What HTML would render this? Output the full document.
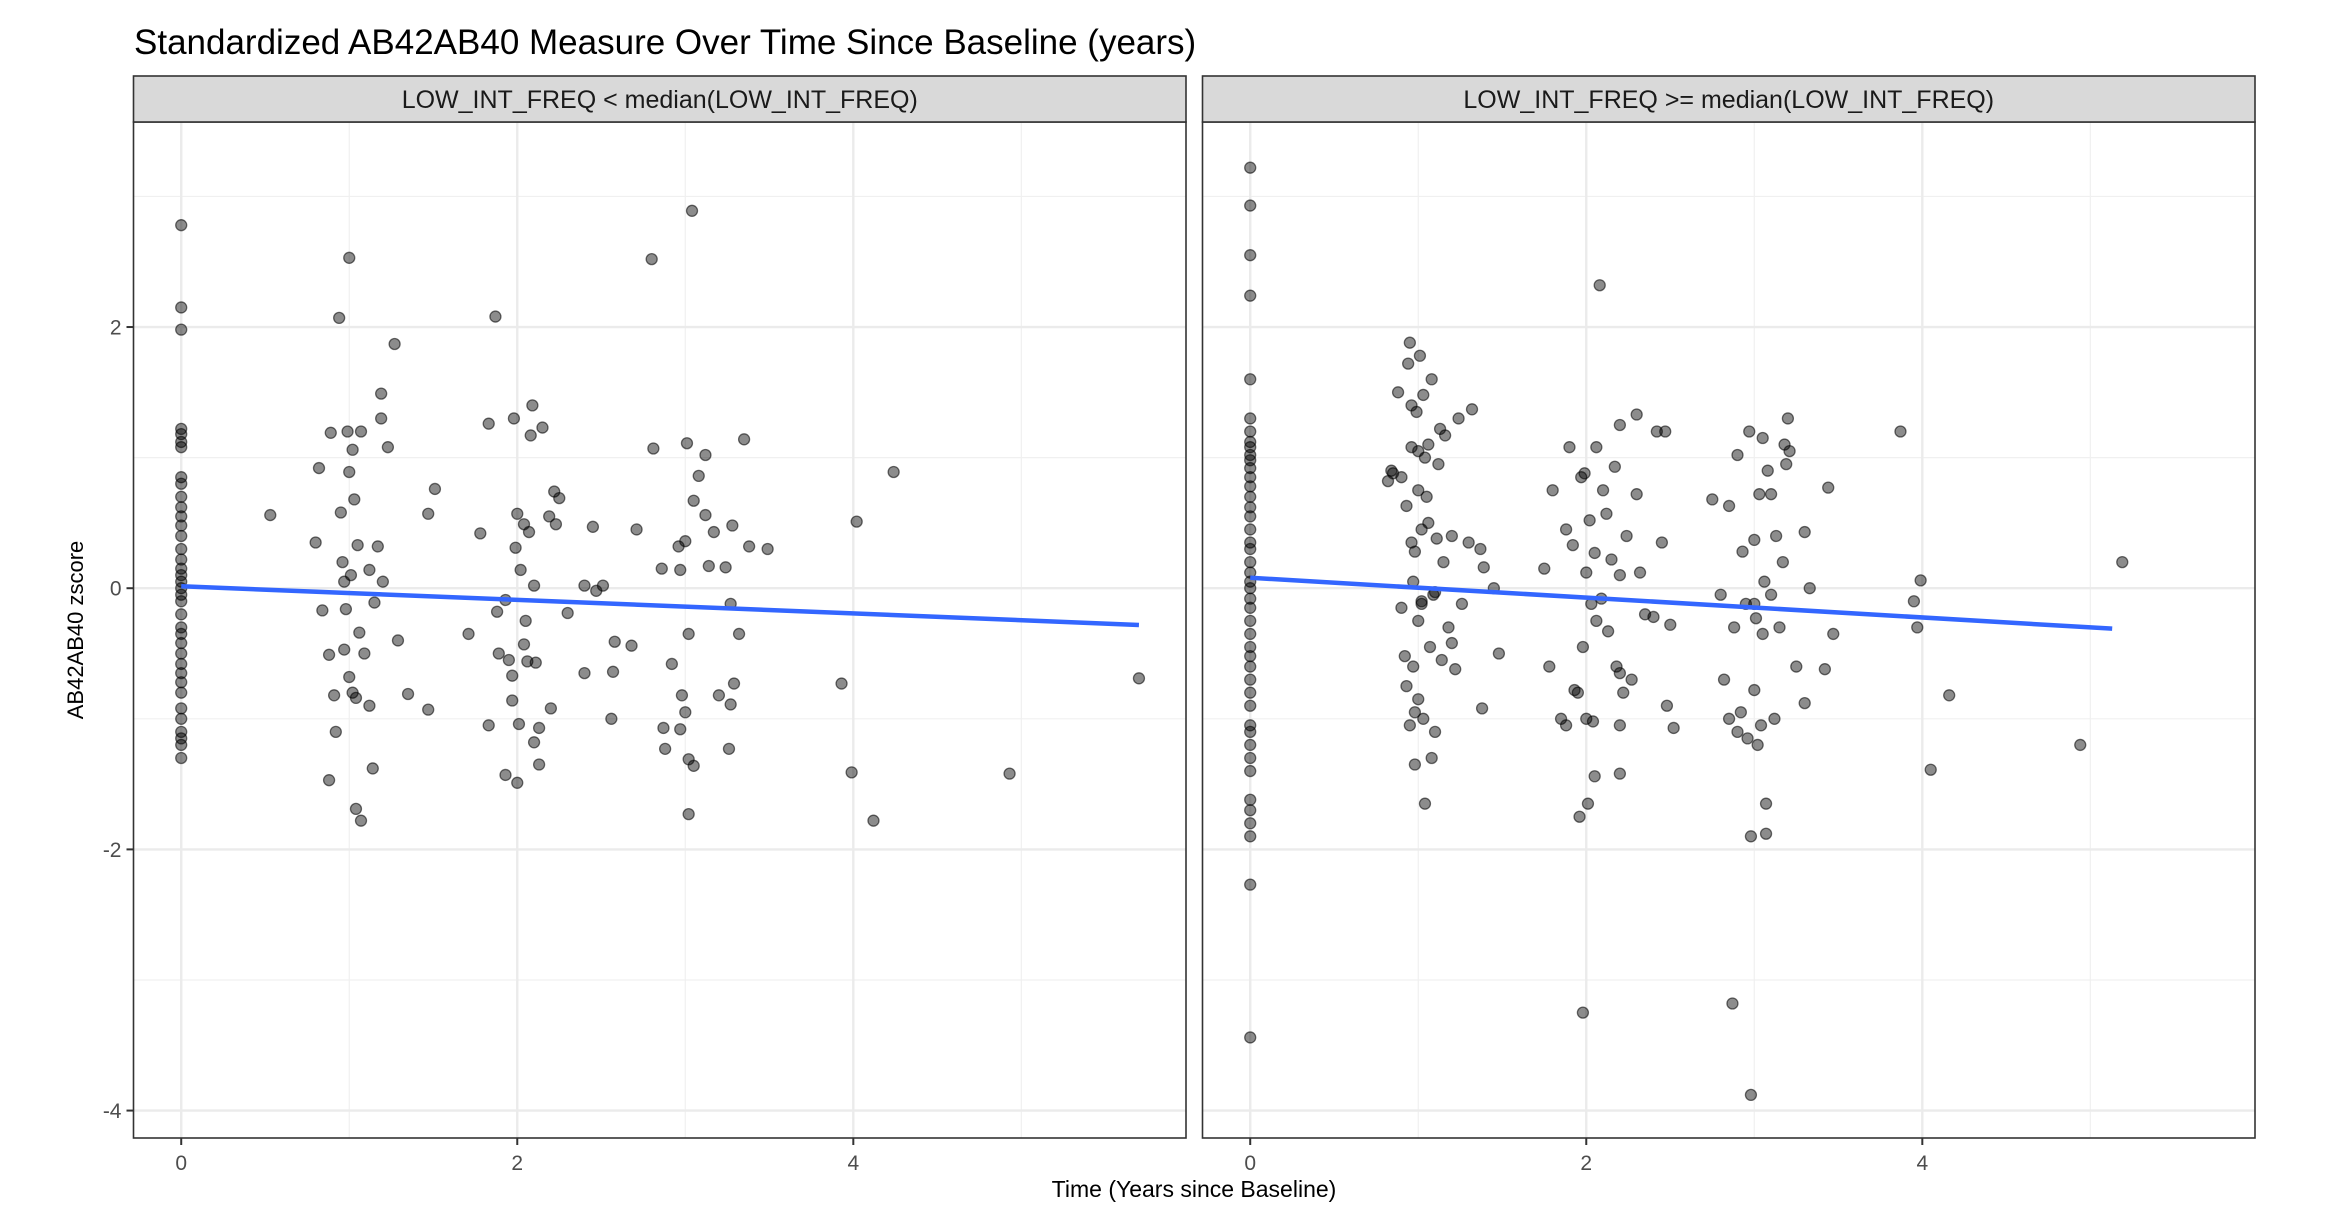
<!DOCTYPE html>
<html><head><meta charset="utf-8"><style>
html,body{margin:0;padding:0;background:#fff;}
svg{display:block;font-family:"Liberation Sans",Arial,sans-serif;}
</style></head><body>
<svg id="chart" width="2328" height="1222" viewBox="0 0 2328 1222">
<text x="134" y="54" font-size="35" fill="#000">Standardized AB42AB40 Measure Over Time Since Baseline (years)</text>
<text x="1194" y="1197" font-size="23" text-anchor="middle" fill="#000">Time (Years since Baseline)</text>
<text transform="translate(83,630) rotate(-90)" font-size="22" text-anchor="middle" fill="#000">AB42AB40 zscore</text>
<g id="panels"></g>
</svg>
<script>
const stripLabels = ["LOW_INT_FREQ < median(LOW_INT_FREQ)", "LOW_INT_FREQ >= median(LOW_INT_FREQ)"];
const xTicks = [0, 2, 4];
const yTicks = [-4, -2, 0, 2];
const p1x0 = [2.78,2.15,1.98,1.22,1.18,1.12,1.08,0.85,0.8,0.7,0.62,0.55,0.48,0.4,0.3,0.22,0.15,0.1,0.05,0.0,-0.05,-0.1,-0.2,-0.3,-0.35,-0.42,-0.5,-0.58,-0.65,-0.72,-0.8,-0.92,-1.0,-1.1,-1.15,-1.2,-1.3];
const p1x = [0.53,0.8,0.82,0.84,0.88,0.88,0.89,0.91,0.92,0.94,0.95,0.96,0.97,0.97,0.98,0.99,1.0,1.0,1.0,1.01,1.02,1.02,1.03,1.04,1.04,1.05,1.06,1.07,1.07,1.09,1.12,1.12,1.14,1.15,1.17,1.19,1.19,1.2,1.23,1.27,1.29,1.35,1.47,1.47,1.51,
1.71,1.78,1.83,1.83,1.87,1.88,1.89,1.93,1.93,1.95,1.97,1.97,1.98,1.99,2.0,2.0,2.01,2.02,2.04,2.04,2.05,2.06,2.07,2.08,2.09,2.1,2.1,2.11,2.13,2.13,2.15,2.19,2.2,2.22,2.23,2.25,2.3,2.4,2.4,2.45,2.47,2.51,2.56,2.57,2.58,2.68,2.71,2.8,2.81,2.86,2.87,2.88,2.92,2.96,2.97,2.97,2.98,3.0,3.0,3.01,3.02,3.02,3.02,3.04,3.05,3.05,3.08,3.12,3.12,3.14,3.17,3.2,3.24,3.26,3.27,3.27,3.28,3.29,3.32,3.35,3.38,3.49,3.93,3.99,4.02,4.12,4.24,4.93,5.7];
const p1y = [0.56,0.35,0.92,-0.17,-1.47,-0.51,1.19,-0.82,-1.1,2.07,0.58,0.2,0.05,-0.47,-0.16,1.2,2.53,0.89,-0.68,0.1,-0.8,1.06,0.68,-0.84,-1.69,0.33,-0.34,-1.78,1.2,-0.5,-0.9,0.14,-1.38,-0.11,0.32,1.49,1.3,0.05,1.08,1.87,-0.4,-0.81,-0.93,0.57,0.76,
-0.35,0.42,-1.05,1.26,2.08,-0.18,-0.5,-1.43,-0.09,-0.55,-0.67,-0.86,1.3,0.31,-1.49,0.57,-1.04,0.14,0.49,-0.43,-0.25,-0.56,0.43,1.17,1.4,0.02,-1.18,-0.57,-1.35,-1.07,1.23,0.55,-0.92,0.74,0.49,0.69,-0.19,0.02,-0.65,0.47,-0.02,0.02,-1.0,-0.64,-0.41,-0.44,0.45,2.52,1.07,0.15,-1.07,-1.23,-0.58,0.32,0.14,-1.08,-0.82,0.36,-0.95,1.11,-1.31,-1.73,-0.35,2.89,-1.36,0.67,0.86,1.02,0.56,0.17,0.43,-0.82,0.16,-1.23,-0.89,-0.12,0.48,-0.73,-0.35,1.14,0.32,0.3,-0.73,-1.41,0.51,-1.78,0.89,-1.42,-0.69];
const p2x0 = [3.22,2.93,2.55,2.24,1.6,1.3,1.2,1.12,1.08,1.02,0.98,0.92,0.85,0.78,0.7,0.62,0.55,0.45,0.35,0.3,0.2,0.12,0.05,0,-0.08,-0.15,-0.25,-0.35,-0.45,-0.52,-0.6,-0.7,-0.8,-0.9,-1.05,-1.1,-1.2,-1.3,-1.4,-1.62,-1.7,-1.8,-1.9,-2.27,-3.44];
const p2x = [0.85,0.88,0.9,0.9,0.92,0.93,0.93,0.94,0.95,0.95,0.96,0.96,0.96,0.97,0.97,0.98,0.98,0.99,1.0,1.0,1.0,1.0,1.01,1.02,1.02,1.03,1.03,1.04,1.05,1.06,1.06,1.07,1.08,1.08,1.09,1.1,1.11,1.12,1.13,1.14,1.15,1.16,1.18,1.2,1.2,1.22,1.24,1.26,1.3,1.32,1.37,1.38,1.39,1.45,1.48,0.82,0.84,1.04,1.1,0.98,1.02,
1.75,1.78,1.8,1.85,1.88,1.88,1.9,1.92,1.93,1.95,1.96,1.97,1.98,1.98,1.99,2.0,2.0,2.01,2.02,2.03,2.04,2.05,2.05,2.06,2.06,2.08,2.1,2.12,2.13,2.15,2.17,2.18,2.2,2.2,2.2,2.2,2.22,2.24,2.27,2.3,2.3,2.32,2.35,2.4,2.42,2.45,2.47,2.48,2.5,2.52,2.2,2.09,
2.75,2.8,2.82,2.85,2.85,2.87,2.88,2.9,2.9,2.92,2.93,2.95,2.96,2.97,2.98,2.98,3.0,3.0,3.01,3.02,3.03,3.04,3.05,3.05,3.06,3.07,3.07,3.08,3.1,3.12,3.13,3.15,3.17,3.18,3.19,3.2,3.21,3.25,3.3,3.3,3.33,3.42,3.44,3.47,3.1,3.0,
3.87,3.95,3.97,3.99,4.16,4.05,4.94,5.19];
const p2y = [0.88,1.5,0.85,-0.15,-0.52,0.63,-0.75,1.72,1.88,-1.05,1.4,1.08,0.35,0.05,-0.6,-1.35,0.28,1.35,-0.25,-0.85,1.05,0.75,1.78,-0.12,0.45,-1.0,1.48,-1.65,0.7,0.5,1.1,-0.45,-1.3,1.6,-0.05,-1.1,0.38,0.95,1.22,-0.55,0.2,1.17,-0.3,0.4,-0.42,-0.62,1.3,-0.12,0.35,1.37,0.3,-0.92,0.16,0.0,-0.5,0.82,0.9,1.0,-0.03,-0.95,-0.1,
0.15,-0.6,0.75,-1.0,0.45,-1.05,1.08,0.33,-0.78,-0.8,-1.75,0.85,-0.45,-3.25,0.88,0.12,-1.0,-1.65,0.52,-0.12,-1.02,0.27,-1.44,-0.25,1.08,2.32,0.75,0.57,-0.33,0.22,0.93,-0.6,0.1,-0.65,1.25,-1.05,-0.8,0.4,-0.7,0.72,1.33,0.12,-0.2,-0.22,1.2,0.35,1.2,-0.9,-0.28,-1.07,-1.42,-0.08,
0.68,-0.05,-0.7,0.63,-1.0,-3.18,-0.3,-1.1,1.02,-0.95,0.28,-0.12,-1.15,1.2,-3.88,-1.9,0.37,-0.78,-0.23,-1.2,0.72,-1.05,1.15,-0.35,0.05,-1.88,-1.65,0.9,0.72,-1.0,0.4,-0.3,0.2,1.1,0.95,1.3,1.05,-0.6,0.43,-0.88,0.0,-0.62,0.77,-0.35,-0.05,-0.12,
1.2,-0.1,-0.3,0.06,-0.82,-1.39,-1.2,0.2];
const fitIntercept = [0.015, 0.08];
const fitSlope = [-0.052, -0.076];
const fitXmax = [5.7, 5.13];

const NS = "http://www.w3.org/2000/svg";
const panelLeft = [133.5, 1202.5], panelW = 1052.5, plotTop = 122, plotBottom = 1138, stripTop = 76;
const xMin = -0.284, xMax = 5.98, yMin = -4.21, yMax = 3.57;
function mk(tag, attrs, parent){const e=document.createElementNS(NS,tag);for(const k in attrs)e.setAttribute(k,attrs[k]);parent.appendChild(e);return e;}
const root = document.getElementById('panels');
const panelsData = [[p1x0,p1x,p1y],[p2x0,p2x,p2y]];
for(let p=0;p<2;p++){
  const L = panelLeft[p];
  const sx = v => L + (v - xMin) / (xMax - xMin) * panelW;
  const sy = v => plotBottom - (v - yMin) / (yMax - yMin) * (plotBottom - plotTop);
  const g = mk('g',{},root);
  
  
  const bg = mk('rect',{x:L,y:plotTop,width:panelW,height:plotBottom-plotTop,fill:'#fff'},g);
  
  
  for(let v=-3; v<=3; v+=2){ const gl=mk('line',{x1:L,x2:L+panelW,y1:sy(v),y2:sy(v),stroke:'#f0f0f0','stroke-width':1.2},g);
    
     }
  for(let v=1; v<=5; v+=2){ const gl=mk('line',{x1:sx(v),x2:sx(v),y1:plotTop,y2:plotBottom,stroke:'#f0f0f0','stroke-width':1.2},g);
    
     }
  yTicks.forEach(v=>{ const gl=mk('line',{x1:L,x2:L+panelW,y1:sy(v),y2:sy(v),stroke:'#ebebeb','stroke-width':2.4},g);
    
     });
  xTicks.forEach(v=>{ const gl=mk('line',{x1:sx(v),x2:sx(v),y1:plotTop,y2:plotBottom,stroke:'#ebebeb','stroke-width':2.4},g);
    
    
    const tk=mk('line',{x1:sx(v),x2:sx(v),y1:plotBottom,y2:plotBottom+7,stroke:'#333','stroke-width':2},g);
    
    
    const t=mk('text',{x:sx(v),y:plotBottom+32,'font-size':21,'text-anchor':'middle',fill:'#4d4d4d'},g); t.textContent=v;
    
     });
  if(p===0){ yTicks.forEach(v=>{
    const tk=mk('line',{x1:L-7,x2:L,y1:sy(v),y2:sy(v),stroke:'#333','stroke-width':2},g);
    
    
    const t=mk('text',{x:L-12,y:sy(v)+7.5,'font-size':21,'text-anchor':'end',fill:'#4d4d4d'},g); t.textContent=v;
    
     }); }
  const [c0,xs,ys] = panelsData[p];
  c0.forEach(v=>{ const c=mk('circle',{cx:sx(0),cy:sy(v),r:5.5,fill:'rgba(0,0,0,0.45)',stroke:'rgba(0,0,0,0.55)','stroke-width':1.3},g);
    
     });
  xs.forEach((x,i)=>{ const c=mk('circle',{cx:sx(x),cy:sy(ys[i]),r:5.5,fill:'rgba(0,0,0,0.45)',stroke:'rgba(0,0,0,0.55)','stroke-width':1.3},g);
    
     });
  const ln=mk('line',{x1:sx(0),y1:sy(fitIntercept[p]),x2:sx(fitXmax[p]),y2:sy(fitIntercept[p]+fitSlope[p]*fitXmax[p]),stroke:'#3366FF','stroke-width':4.5},g);
  
  
  const br=mk('rect',{x:L,y:plotTop,width:panelW,height:plotBottom-plotTop,fill:'none',stroke:'#333','stroke-width':1.6},g);
  
  
  const st=mk('rect',{x:L,y:stripTop,width:panelW,height:plotTop-stripTop,fill:'#d9d9d9',stroke:'#333','stroke-width':1.6},g);
  
  
  const stt=mk('text',{x:L+panelW/2,y:(stripTop+plotTop)/2+9,'font-size':25,'text-anchor':'middle',fill:'#1a1a1a'},g);
  stt.textContent = stripLabels[p];
  
  
}
</script>
</body></html>
